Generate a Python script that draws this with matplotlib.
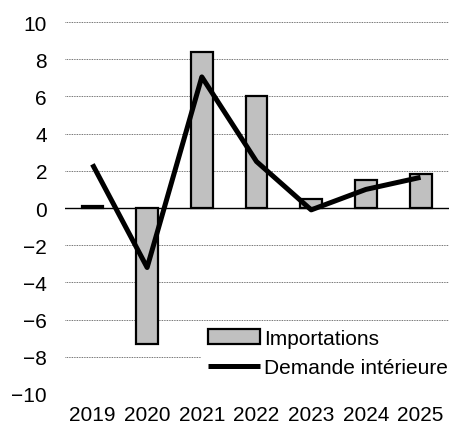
import numpy as np
import matplotlib
matplotlib.use('Agg')
import matplotlib.pyplot as plt

years = ['2019', '2020', '2021', '2022', '2023', '2024', '2025']
importations = [0.1, -7.3, 8.4, 6.0, 0.5, 1.5, 1.85]
demande = [2.35, -3.2, 7.05, 2.5, -0.1, 1.0, 1.65]
yticks = [-10, -8, -6, -4, -2, 0, 2, 4, 6, 8, 10]

plt.rcParams['font.family'] = ['Liberation Sans', 'DejaVu Sans']
plt.rcParams['font.size'] = 15

fig = plt.figure(figsize=(4.49, 4.27), dpi=100)
ax = fig.add_axes([0.145, 0.075, 0.855, 0.871])

x = np.arange(len(years))
bars = ax.bar(x, importations, width=0.4, color='#c0c0c0', edgecolor='black',
              linewidth=1.6, label='Importations', zorder=2)
line, = ax.plot(x, demande, color='black', linewidth=3.6, label='Demande intérieure',
                zorder=3, solid_capstyle='butt')
ax.axhline(0, color='black', linewidth=1.0, zorder=1)

ax.set_ylim(-10, 10)
ax.set_xlim(-0.5, 6.52)
ax.set_yticks(yticks)
ax.set_xticks(x)
ax.set_xticklabels(years)
ax.yaxis.grid(True, linestyle=(0, (1, 1)), color='#444444', linewidth=0.6, zorder=0)
ax.set_axisbelow(True)
for s in ax.spines.values():
    s.set_visible(False)
ax.tick_params(length=0)
ax.tick_params(axis='y', pad=13)
ax.tick_params(axis='x', pad=8)

leg = ax.legend([bars, line], ['Importations', 'Demande intérieure'],
                loc='lower right', bbox_to_anchor=(1.04, 0.0), frameon=True,
                fancybox=False, edgecolor='none', framealpha=1,
                handlelength=2.5, handletextpad=0.2, labelspacing=0.5,
                borderpad=0.3)

fig.savefig('out.png', dpi=100)
